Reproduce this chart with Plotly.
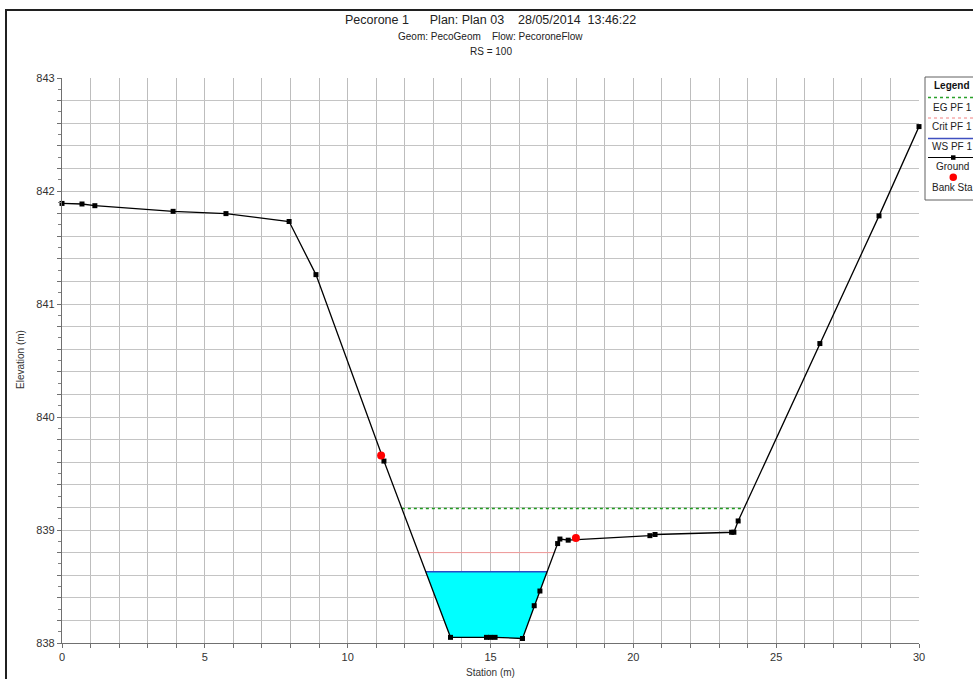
import numpy as np
import plotly.graph_objects as go

# ---------------- data ----------------
ground_station = [0.0, 0.70, 1.15, 3.89, 5.74, 7.95, 8.89, 11.27, 13.60, 14.86, 15.00, 15.16,
                  16.12, 16.53, 16.73, 17.35, 17.43, 17.72, 20.58, 20.76, 23.44, 23.52, 23.67,
                  26.53, 28.60, 30.0]
ground_elev = [841.89, 841.885, 841.87, 841.82, 841.80, 841.73, 841.26, 839.61, 838.05, 838.05,
               838.05, 838.05, 838.04, 838.33, 838.46, 838.88, 838.92, 838.91, 838.95, 838.96,
               838.98, 838.98, 839.08, 840.65, 841.78, 842.57]
bank_station = [11.17, 17.99]
bank_elev = [839.66, 838.93]
eg_elev = 839.19
crit_elev = 838.80
ws_elev = 838.63

x_tick_values = list(range(0, 31))
x_tick_labels = [str(v) if v % 5 == 0 else "" for v in x_tick_values]
y_tick_values = [round(838 + 0.2 * i, 1) for i in range(26)]
y_tick_labels = [str(int(v)) if abs(v - round(v)) < 1e-6 else "" for v in y_tick_values]

title_line1 = "Pecorone 1\u00a0\u00a0\u00a0\u00a0\u00a0\u00a0Plan: Plan 03\u00a0\u00a0\u00a0\u00a028/05/2014\u00a0\u00a013:46:22"
title_line2 = "Geom: PecoGeom\u00a0\u00a0\u00a0\u00a0Flow: PecoroneFlow"
title_line3 = "RS = 100"
legend_names = ["EG PF 1", "Crit PF 1", "WS PF 1", "Ground", "Bank Sta"]

# ---------------- helpers ----------------
gs = np.array(ground_station)
ge = np.array(ground_elev)


def crossings(level):
    i0 = int(np.argmin(ge))
    i = i0
    while ge[i] < level:
        i -= 1
    xl = gs[i] + (level - ge[i]) / (ge[i + 1] - ge[i]) * (gs[i + 1] - gs[i])
    j = i0
    while ge[j] < level:
        j += 1
    xr = gs[j - 1] + (level - ge[j - 1]) / (ge[j] - ge[j - 1]) * (gs[j] - gs[j - 1])
    return xl, xr, i, j


W, H = 973, 679
L, R, T, B = 62, 919, 78, 643


def px(x):
    return (x - L) / (R - L)


def py(y):
    return (B - y) / (B - T)


FONT = "Liberation Sans, Arial, sans-serif"

fig = go.Figure()

# water fill
xl, xr, i, j = crossings(ws_elev)
poly_x = [xl] + list(gs[i + 1:j]) + [xr, xl]
poly_y = [ws_elev] + list(ge[i + 1:j]) + [ws_elev, ws_elev]
fig.add_trace(go.Scatter(x=poly_x, y=poly_y, fill="toself", fillcolor="#00ffff",
                         mode="lines", line=dict(width=0), hoverinfo="skip", showlegend=False))

# EG
a, b, _, _ = crossings(eg_elev)
fig.add_trace(go.Scatter(x=[a, b], y=[eg_elev, eg_elev], mode="lines",
                         line=dict(color="#1f9a1f", width=1.5, dash="dot"), name=legend_names[0],
                         showlegend=False))
# Crit
a, b, _, _ = crossings(crit_elev)
fig.add_trace(go.Scatter(x=[a, b], y=[crit_elev, crit_elev], mode="lines",
                         line=dict(color="#f29a9a", width=1), name=legend_names[1], showlegend=False))
# WS
fig.add_trace(go.Scatter(x=[xl, xr], y=[ws_elev, ws_elev], mode="lines",
                         line=dict(color="#2a4ac8", width=1.5), name=legend_names[2], showlegend=False))
# Ground
fig.add_trace(go.Scatter(x=ground_station, y=ground_elev, mode="lines+markers",
                         line=dict(color="black", width=1.3),
                         marker=dict(symbol="square", size=5, color="black"),
                         name=legend_names[3], showlegend=False, cliponaxis=False))
# Bank stations
fig.add_trace(go.Scatter(x=bank_station, y=bank_elev, mode="markers",
                         marker=dict(symbol="circle", size=8, color="#ff0000"),
                         name=legend_names[4], showlegend=False, cliponaxis=False))

grid_col = "#c4c4c4"
fig.update_xaxes(range=[0, 30], tickmode="array", tickvals=x_tick_values, ticktext=x_tick_labels,
                 showgrid=True, gridcolor="#bdbdbd", gridwidth=1.2, ticks="outside", ticklen=4,
                 tickcolor="#707070", showline=True, linecolor="#707070", linewidth=1.2,
                 zeroline=False, tickfont=dict(family=FONT, size=11, color="#333333"))
fig.update_yaxes(range=[838, 843], tickmode="array", tickvals=y_tick_values, ticktext=y_tick_labels,
                 showgrid=True, gridcolor=grid_col, gridwidth=1.2, ticks="outside", ticklen=4,
                 tickcolor="#707070", showline=True, linecolor="#707070", linewidth=1.2,
                 zeroline=False, tickfont=dict(family=FONT, size=11, color="#333333"),
                 minor=dict(dtick=0.1, ticks="outside", ticklen=3, tickcolor="#808080", showgrid=False))

shapes = []
# outer frame
shapes.append(dict(type="rect", xref="paper", yref="paper", x0=px(6), x1=px(1000), y0=py(10), y1=py(720),
                   line=dict(color="#202020", width=2), fillcolor="rgba(0,0,0,0)"))
# legend box
shapes.append(dict(type="rect", xref="paper", yref="paper", x0=px(925), x1=px(1000), y0=py(77), y1=py(200),
                   line=dict(color="#606060", width=1), fillcolor="white"))
# legend samples
shapes.append(dict(type="line", xref="paper", yref="paper", x0=px(928), x1=px(1000), y0=py(97.5), y1=py(97.5),
                   line=dict(color="#2aa02a", width=1.3, dash="dot")))
shapes.append(dict(type="line", xref="paper", yref="paper", x0=px(928), x1=px(1000), y0=py(118), y1=py(118),
                   line=dict(color="#f08080", width=1, dash="dot")))
shapes.append(dict(type="line", xref="paper", yref="paper", x0=px(928), x1=px(1000), y0=py(138.5), y1=py(138.5),
                   line=dict(color="#4050c0", width=1.5)))
shapes.append(dict(type="line", xref="paper", yref="paper", x0=px(928), x1=px(1000), y0=py(157.5), y1=py(157.5),
                   line=dict(color="black", width=1)))
shapes.append(dict(type="rect", xref="paper", yref="paper", x0=px(951), x1=px(955.5), y0=py(155.3), y1=py(159.8),
                   line=dict(width=0), fillcolor="black"))
shapes.append(dict(type="circle", xref="paper", yref="paper", x0=px(949.5), x1=px(957), y0=py(173.5), y1=py(181),
                   line=dict(width=0), fillcolor="#ff0000"))

ann = []
ann.append(dict(text=title_line1, x=0.5, xref="paper", y=py(20), yref="paper", showarrow=False,
                font=dict(family=FONT, size=12.5, color="#222222"), xanchor="center", yanchor="middle"))
ann.append(dict(text=title_line2, x=0.5, xref="paper", y=py(37), yref="paper", showarrow=False,
                font=dict(family=FONT, size=10, color="#222222"), xanchor="center", yanchor="middle"))
ann.append(dict(text=title_line3, x=0.5, xref="paper", y=py(52), yref="paper", showarrow=False,
                font=dict(family=FONT, size=10, color="#222222"), xanchor="center", yanchor="middle"))
ann.append(dict(text="Elevation (m)", x=px(20), xref="paper", y=py(360), yref="paper", showarrow=False,
                textangle=-90, font=dict(family=FONT, size=10, color="#333333"),
                xanchor="center", yanchor="middle"))
ann.append(dict(text="Station (m)", x=0.5, xref="paper", y=py(672), yref="paper", showarrow=False,
                font=dict(family=FONT, size=10, color="#333333"), xanchor="center", yanchor="middle"))
ann.append(dict(text="<b>Legend</b>", x=px(952), xref="paper", y=py(85), yref="paper", showarrow=False,
                font=dict(family=FONT, size=10, color="#111111"), xanchor="center", yanchor="middle"))
for name, yy in zip(legend_names, [107.5, 127, 146.5, 167, 187]):
    ann.append(dict(text=name, x=px(952), xref="paper", y=py(yy), yref="paper", showarrow=False,
                    font=dict(family=FONT, size=10, color="#222222"), xanchor="center", yanchor="middle"))

fig.update_layout(width=W, height=H, margin=dict(l=L, r=W - R, t=T, b=H - B),
                  paper_bgcolor="white", plot_bgcolor="white", showlegend=False,
                  shapes=shapes, annotations=ann)

fig.write_html("out.html", config={"displayModeBar": False},
               post_script="document.body.style.margin='0px';document.body.style.overflow='hidden';")
